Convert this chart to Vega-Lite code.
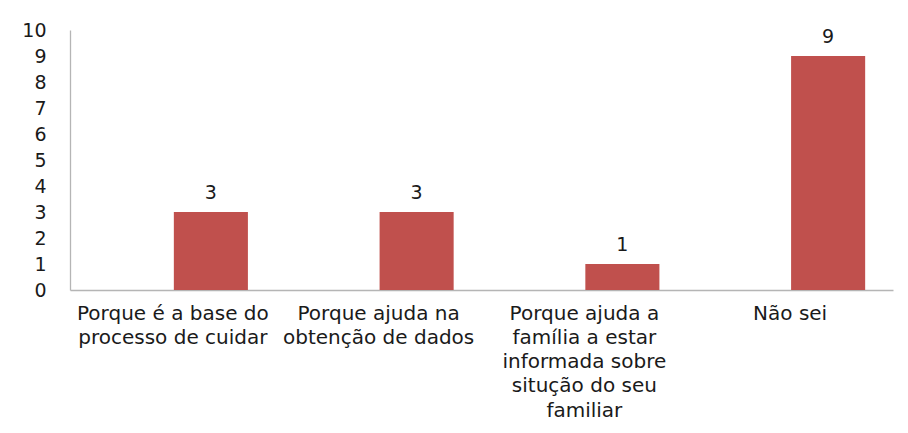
{
  "$schema": "https://vega.github.io/schema/vega-lite/v6.json",
  "autosize": {"type": "none"},
  "padding": {"left": 70, "top": 30, "right": 15, "bottom": 143},
  "width": 823,
  "height": 260,
  "background": "white",
  "config": {
    "view": {"stroke": null},
    "font": "DejaVu Sans",
    "axis": {"labelFont": "DejaVu Sans", "labelColor": "#1a1a1a", "labelFontSize": 20, "domainColor": "#b5b5b5", "domainWidth": 1.3, "ticks": false, "grid": false, "title": null}
  },
  "data": {
    "values": [
      {"motivo": "Porque é a base do processo de cuidar", "n": 3},
      {"motivo": "Porque ajuda na obtenção de dados", "n": 3},
      {"motivo": "Porque ajuda a família a estar informada sobre situção do seu familiar", "n": 1},
      {"motivo": "Não sei", "n": 9}
    ]
  },
  "encoding": {
    "x": {
      "field": "motivo", "type": "nominal", "sort": null,
      "scale": {"paddingInner": 0, "paddingOuter": 0},
      "axis": {
        "labelAngle": 0, "labelPadding": 13, "labelBaseline": "top", "labelLineHeight": 24.3, "labelLimit": 300,
        "labelExpr": "datum.label == 'Porque é a base do processo de cuidar' ? ['Porque é a base do', 'processo de cuidar'] : datum.label == 'Porque ajuda na obtenção de dados' ? ['Porque ajuda na', 'obtenção de dados'] : datum.label == 'Não sei' ? 'Não sei' : ['Porque ajuda a', 'família a estar', 'informada sobre', 'situção do seu', 'familiar']"
      }
    },
    "y": {
      "field": "n", "type": "quantitative",
      "scale": {"domain": [0, 10], "nice": false},
      "axis": {"values": [0,1,2,3,4,5,6,7,8,9,10], "labelPadding": 24, "labelAlign": "right", "labelFontSize": 19}
    }
  },
  "layer": [
    {"mark": {"type": "bar", "color": "#C0504D", "width": {"band": 0.36}, "xOffset": 38}},
    {"mark": {"type": "text", "baseline": "bottom", "dy": -9, "xOffset": 38, "fontSize": 19, "color": "#1a1a1a", "font": "DejaVu Sans"},
     "encoding": {"text": {"field": "n", "type": "quantitative"}}}
  ]
}
